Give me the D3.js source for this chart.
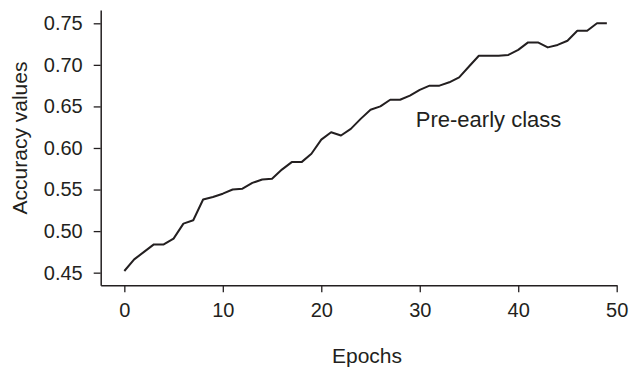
<!DOCTYPE html>
<html>
<head>
<meta charset="utf-8">
<script src="https://cdn.jsdelivr.net/npm/d3@7"></script>
<style>
  html, body { margin: 0; padding: 0; background: #fff; }
  svg { display: block; }
  text { font-family: "Liberation Sans", Arial, Helvetica, sans-serif; fill: #231f20; }
</style>
</head>
<body>
<svg id="chart" width="641" height="369"></svg>
<script>
// Data
const epochs = d3.range(0, 50);
const accuracy = [
  0.452, 0.466, 0.475, 0.484, 0.484, 0.491, 0.509, 0.513, 0.538, 0.541,
  0.545, 0.550, 0.551, 0.558, 0.562, 0.563, 0.574, 0.583, 0.583, 0.593,
  0.610, 0.619, 0.615, 0.623, 0.635, 0.646, 0.650, 0.658, 0.658, 0.663,
  0.670, 0.675, 0.675, 0.679, 0.685, 0.698, 0.711, 0.711, 0.711, 0.712,
  0.718, 0.727, 0.727, 0.721, 0.724, 0.729, 0.741, 0.741, 0.750, 0.750
];
const xTicks = [0, 10, 20, 30, 40, 50];
const yTicks = [0.45, 0.50, 0.55, 0.60, 0.65, 0.70, 0.75];
const annotation = "Pre-early class";
const xTitle = "Epochs";
const yTitle = "Accuracy values";

const ink = "#231f20";
const svg = d3.select("#chart");

const x = d3.scaleLinear().domain([-2.4, 50]).range([100.7, 616.7]);
const y = d3.scaleLinear().domain([0.4348, 0.766]).range([285.3, 10]);

// X axis
const gx = svg.append("g")
  .attr("transform", `translate(0,${y.range()[0]})`)
  .call(d3.axisBottom(x).tickValues(xTicks).tickFormat(d3.format("d"))
    .tickSize(7).tickSizeOuter(0).tickPadding(11));
// Y axis
const gy = svg.append("g")
  .attr("transform", `translate(${x.range()[0]},0)`)
  .call(d3.axisLeft(y).tickValues(yTicks).tickFormat(d3.format(".2f"))
    .tickSize(7).tickSizeOuter(0).tickPadding(11));

[gx, gy].forEach(g => {
  g.select(".domain").attr("stroke", ink).attr("stroke-width", 1.5);
  g.selectAll(".tick line").attr("stroke", ink).attr("stroke-width", 1.3);
  g.selectAll(".tick text").attr("font-size", 20).attr("fill", ink)
    .attr("font-family", '"Liberation Sans", Arial, sans-serif');
});

// Line
const line = d3.line()
  .x((d, i) => x(epochs[i]))
  .y(d => y(d));
svg.append("path")
  .datum(accuracy)
  .attr("fill", "none")
  .attr("stroke", ink)
  .attr("stroke-width", 2)
  .attr("stroke-linejoin", "round")
  .attr("d", line);

// Annotation
svg.append("text")
  .attr("x", x(29.6))
  .attr("y", 126.5)
  .attr("font-size", 22)
  .text(annotation);

// Axis titles
svg.append("text")
  .attr("x", 367)
  .attr("y", 363)
  .attr("text-anchor", "middle")
  .attr("font-size", 21)
  .text(xTitle);

svg.append("text")
  .attr("transform", "translate(27,138) rotate(-90)")
  .attr("text-anchor", "middle")
  .attr("font-size", 21)
  .text(yTitle);
</script>
</body>
</html>
